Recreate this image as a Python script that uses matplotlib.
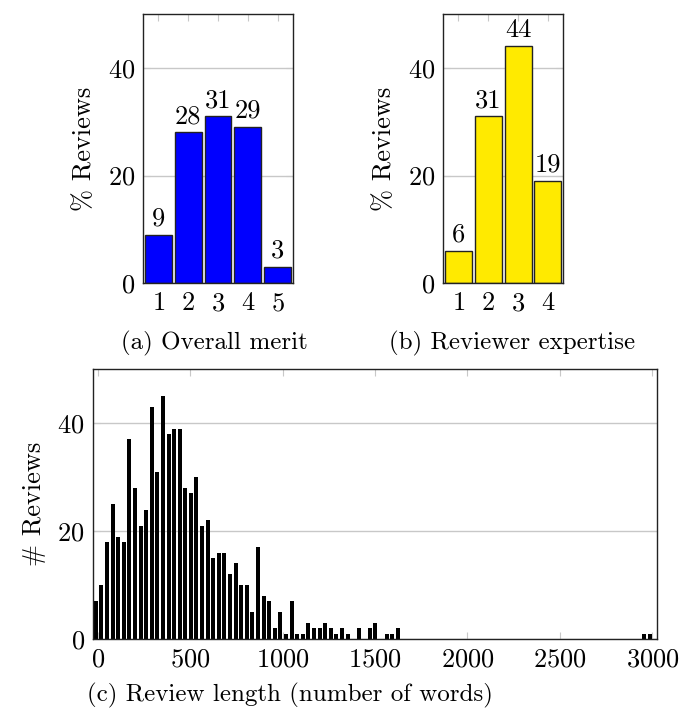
import numpy as np
import matplotlib
matplotlib.use("Agg")
import matplotlib.pyplot as plt

plt.rcParams['font.family'] = ['cmr10', 'DejaVu Serif']
plt.rcParams['mathtext.fontset'] = 'cm'
plt.rcParams['axes.formatter.use_mathtext'] = True

# (a) overall merit, (b) reviewer expertise, % of reviews
merit_scores = [1, 2, 3, 4, 5]
merit_pct = [9, 28, 31, 29, 3]
expertise_scores = [1, 2, 3, 4]
expertise_pct = [6, 31, 44, 19]

# (c) review length histogram, 100 bins
length_counts = [7, 10, 18, 25, 19, 18, 37, 28, 21, 24,
                 43, 31, 45, 38, 39, 39, 28, 27, 30, 21,
                 22, 15, 16, 16, 12, 14, 10, 10, 5, 17,
                 8, 7, 2, 5, 1, 7, 1, 1, 3, 2,
                 2, 3, 2, 1, 2, 1, 0, 2, 0, 2,
                 3, 0, 1, 1, 2] + [0] * 43 + [1, 1]
length_edges = np.linspace(-25, 3000, 101)

fs = 19
cap_fs = 18
grid_col = '#c8c8c8'


def style_axes(ax):
    ax.set_ylim(0, 50)
    ax.set_yticks([0, 20, 40])
    ax.yaxis.grid(True, color=grid_col, lw=1.0)
    ax.set_axisbelow(True)
    ax.tick_params(direction='in', length=5, color=grid_col, labelsize=fs,
                   top=True, right=True, pad=6)
    for sp in ax.spines.values():
        sp.set_color('#222222')
        sp.set_linewidth(1.0)


def bar_panel(rect, xs, vals, color, caption, cap_x):
    ax = fig.add_axes(rect)
    ax.bar(xs, vals, width=0.9, color=color, edgecolor='#222222', lw=1.0)
    for x, v in zip(xs, vals):
        ax.annotate(str(v), (x, v), xytext=(0, 3), textcoords='offset points',
                    ha='center', va='bottom', fontsize=fs)
    ax.set_xlim(0.5, len(xs) + 0.5)
    ax.set_xticks(xs)
    style_axes(ax)
    ax.set_ylabel('% Reviews', fontsize=fs, labelpad=8)
    fig.text(cap_x, 1 - 343 / 716, caption, ha='center', va='center', fontsize=cap_fs)
    return ax


fig = plt.figure(figsize=(6.79, 7.16), dpi=100)

bar_panel([143.3 / 679, 1 - 283.3 / 716, 149.4 / 679, 269.3 / 716],
          merit_scores, merit_pct, '#0000ff', '(a) Overall merit', 214 / 679)
bar_panel([443.3 / 679, 1 - 283.3 / 716, 119.6 / 679, 269.3 / 716],
          expertise_scores, expertise_pct, '#ffea00', '(b) Reviewer expertise', 512 / 679)

ax = fig.add_axes([93 / 679, 1 - 639 / 716, 564 / 679, 269.7 / 716])
bw = length_edges[1] - length_edges[0]
ax.bar(length_edges[:-1] + bw * 0.14, length_counts, width=bw * 0.72,
       align='edge', color='black', lw=0)
ax.set_xlim(-25, 3025)
ax.set_xticks(np.arange(0, 3001, 500))
style_axes(ax)
ax.set_ylabel('# Reviews', fontsize=fs, labelpad=8)
fig.text(290 / 679, 1 - 695 / 716, '(c) Review length (number of words)',
         ha='center', va='center', fontsize=cap_fs)

plt.savefig('out.png', dpi=100)
plt.close()
